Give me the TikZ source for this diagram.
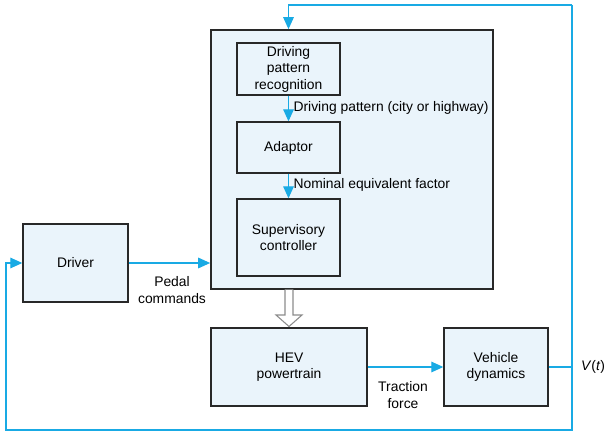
\documentclass[tikz,border=0pt]{standalone}
\usepackage{fontspec}
\setmainfont{Liberation Sans}
\definecolor{flowblue}{RGB}{25, 170, 228}
\definecolor{boxfill}{RGB}{234, 244, 251}
\definecolor{boxline}{RGB}{40, 40, 40}
\usetikzlibrary{arrows.meta, positioning, calc}

\begin{document}
\begin{tikzpicture}[x=0.75pt, y=-0.75pt,
    every node/.style={font=\fontsize{10.4}{12.4}\selectfont},
    blockbox/.style={draw=boxline, line width=1.1pt, fill=boxfill, align=center, inner sep=0pt},
    flow/.style={draw=flowblue, line width=0.8pt, -{Triangle[length=9pt, width=8pt]}},
    plainflow/.style={draw=flowblue, line width=0.8pt},
    lbl/.style={align=center, inner sep=1pt}]
  \useasboundingbox (0,0) rectangle (605,434);

  % energy management block and its parts
  \node[blockbox, line width=1.3pt, minimum width=211.5pt, minimum height=194.25pt] (ems) at (352,159.5) {};
  \node[blockbox, minimum width=77.25pt, minimum height=39pt] (dpr) at (288.5,69) {Driving\\pattern\\recognition};
  \node[blockbox, minimum width=77.25pt, minimum height=38.25pt] (adaptor) at (288.5,147.5) {Adaptor};
  \node[blockbox, minimum width=77.25pt, minimum height=57.75pt] (supervisor) at (288.5,237.5) {Supervisory\\controller};

  % outer blocks
  \node[blockbox, minimum width=78.75pt, minimum height=58.5pt] (driver) at (75.5,263) {Driver};
  \node[blockbox, minimum width=117pt, minimum height=58.5pt] (powertrain) at (289,367) {HEV\\powertrain};
  \node[blockbox, minimum width=78pt, minimum height=58.5pt] (vehicle) at (496,367) {Vehicle\\dynamics};

  % signals inside the block
  \draw[flow] (dpr.south) -- (adaptor.north);
  \node[lbl, anchor=west] (dprlbl) at (292,108) {Driving pattern (city or highway)};
  \draw[flow] (adaptor.south) -- (supervisor.north);
  \node[lbl, anchor=west] (neflbl) at (292,185) {Nominal equivalent factor};

  % driver to controller
  \draw[flow] (driver.east) -- (driver.east -| ems.west);
  \node[lbl] (pedallbl) at (172,290) {Pedal\\commands};

  % control command (hollow arrow)
  \draw[draw=black!45, line width=0.8pt, fill=white]
    (285,289.6) -- (285,315) -- (276,315) -- (289,326.5) -- (302,315) -- (293,315) -- (293,289.6);

  % powertrain to vehicle
  \draw[flow] (powertrain.east) -- (vehicle.west);
  \node[lbl] (tractionlbl) at (403,395) {Traction\\force};

  % speed feedback
  \coordinate (vtop) at (572,5);
  \coordinate (vbot) at (572,430);
  \coordinate (lbot) at (6,430);
  \draw[plainflow] (vehicle.east) -- (vehicle.east -| vtop);
  \draw[flow] (vtop) -| (dpr.center |- ems.north);
  \draw[flow] (vtop) -- (vbot) -- (lbot) |- (driver.west);
  \node[lbl] (speedlbl) at (593,367) {\textit{V}(\textit{t})};
\end{tikzpicture}
\end{document}
